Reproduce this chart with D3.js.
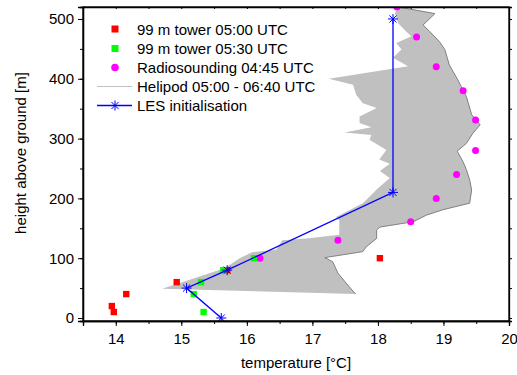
<!DOCTYPE html>
<html>
<head>
<meta charset="utf-8">
<title>Temperature profiles</title>
<script src="https://d3js.org/d3.v7.min.js"></script>
<style>
  body { margin: 0; background: #fff; }
  text { font-family: "Liberation Sans", Arial, Helvetica, sans-serif; }
</style>
</head>
<body>
<script>
// --- data (temperature in degC, height in m) ---
var tower0500 = [[13.94, 20], [13.97, 10], [14.16, 40], [14.93, 60], [15.70, 80], [18.03, 100]];
var tower0530 = [[15.34, 10], [15.19, 40], [15.30, 60], [15.64, 80], [16.11, 100]];
var radio0445 = [[16.20, 100], [17.39, 130], [18.50, 161], [18.89, 200], [19.20, 240], [19.49, 280],
                 [19.49, 331], [19.30, 380], [18.89, 420], [18.59, 470], [18.29, 520]];
var lesInit = [[15.61, 0], [15.08, 50], [15.70, 80], [18.23, 210], [18.23, 500]];

// helipod envelope: warm side (top to bottom) and cold side (bottom to top)
var helipodWarm = [[18.31, 520], [18.87, 509], [18.69, 490], [18.79, 479], [18.94, 462], [19.02, 449],
  [19.09, 423], [19.22, 398], [19.35, 370], [19.38, 359], [19.43, 340], [19.56, 323], [19.45, 309],
  [19.35, 292], [19.21, 279], [19.30, 261], [19.35, 248], [19.40, 231], [19.43, 214], [19.40, 192],
  [18.99, 181], [18.74, 172], [18.54, 161], [18.03, 152], [17.98, 147], [17.98, 133], [17.82, 119],
  [17.77, 111], [17.19, 101], [17.31, 94], [17.39, 75], [17.54, 55], [17.66, 40]];
var helipodCold = [[14.71, 49], [15.66, 83], [15.89, 100], [16.08, 110], [16.45, 114], [16.54, 130],
  [16.91, 133], [17.41, 139], [17.41, 164], [17.36, 169], [17.77, 192], [17.98, 215], [18.18, 234],
  [18.03, 246], [18.18, 258], [18.02, 265], [18.13, 281], [17.87, 298], [17.90, 306], [17.49, 310],
  [17.90, 319], [17.72, 326], [17.72, 337], [17.98, 351], [17.77, 359], [17.67, 373], [17.62, 390],
  [17.25, 400], [18.46, 421], [18.23, 435], [18.36, 449], [18.28, 460], [18.51, 471], [18.43, 479],
  [18.31, 493], [18.26, 510]];

var xTicks = [14, 15, 16, 17, 18, 19, 20];
var yTicks = [0, 100, 200, 300, 400, 500];
var legendLabels = ["99 m tower 05:00 UTC", "99 m tower 05:30 UTC", "Radiosounding 04:45 UTC",
                    "Helipod 05:00 - 06:40 UTC", "LES initialisation"];

const margin = {top: 7, right: 8, bottom: 54, left: 83},
    width = 517 - margin.left - margin.right,
    height = 375 - margin.top - margin.bottom;

var svg = d3.select("body").append("svg")
    .attr("width", 517)
    .attr("height", 375)
  .append("g")
    .attr("transform", "translate(" + margin.left + "," + margin.top + ")");

var x = d3.scaleLinear().domain([13.5, 20]).range([0, width]),
    y = d3.scaleLinear().domain([-5, 520]).range([height, 0]);

svg.append("clipPath").attr("id", "clip")
  .append("rect").attr("width", width).attr("height", height);

var plot = svg.append("g").attr("clip-path", "url(#clip)");

// helipod band
var band = helipodWarm.concat(helipodCold);
var line = d3.line().x(function(d) { return x(d[0]); }).y(function(d) { return y(d[1]); });

plot.append("path")
    .attr("d", line(band) + "Z")
    .attr("fill", "#c0c0c0")
    .attr("stroke", "none");
plot.append("path")
    .attr("d", line(helipodWarm))
    .attr("fill", "none")
    .attr("stroke", "#808080")
    .attr("stroke-width", 1);

// radiosounding
plot.selectAll(".radio").data(radio0445).enter().append("circle")
    .attr("cx", function(d) { return x(d[0]); })
    .attr("cy", function(d) { return y(d[1]); })
    .attr("r", 3.5)
    .attr("fill", "#ff00ff");

// towers
function squares(data, color) {
  plot.selectAll(null).data(data).enter().append("rect")
      .attr("x", function(d) { return x(d[0]) - 3.2; })
      .attr("y", function(d) { return y(d[1]) - 3.2; })
      .attr("width", 6.4)
      .attr("height", 6.4)
      .attr("fill", color);
}
squares(tower0500, "#ff0000");
squares(tower0530, "#00ff00");

// LES line + asterisks
function asterisk(r) {
  var q = r * Math.SQRT1_2;
  return "M" + (-r) + ",0L" + r + ",0M0," + (-r) + "L0," + r +
         "M" + (-q) + "," + (-q) + "L" + q + "," + q +
         "M" + (-q) + "," + q + "L" + q + "," + (-q);
}
plot.append("path")
    .attr("d", line(lesInit))
    .attr("fill", "none")
    .attr("stroke", "#0000ff")
    .attr("stroke-width", 1.3);
plot.selectAll(".les").data(lesInit).enter().append("path")
    .attr("transform", function(d) { return "translate(" + x(d[0]) + "," + y(d[1]) + ")"; })
    .attr("d", asterisk(5))
    .attr("stroke", "#0000ff")
    .attr("stroke-width", 1);

// axes
var minorX = d3.range(13.5, 20.01, 0.5),
    minorY = d3.range(0, 520, 50);

svg.append("g").attr("transform", "translate(0," + height + ")")
    .call(d3.axisBottom(x).tickValues(minorX).tickSize(3).tickFormat(""));
svg.append("g").attr("transform", "translate(0," + height + ")")
    .call(d3.axisBottom(x).tickValues(xTicks).tickSize(5).tickPadding(7).tickFormat(d3.format("d")));
svg.append("g")
    .call(d3.axisTop(x).tickValues(minorX).tickSize(-2).tickFormat(""));

svg.append("g")
    .call(d3.axisLeft(y).tickValues(minorY).tickSize(3).tickFormat(""));
svg.append("g")
    .call(d3.axisLeft(y).tickValues(yTicks).tickSize(5).tickPadding(4).tickFormat(d3.format("d")));
svg.append("g").attr("transform", "translate(" + width + ",0)")
    .call(d3.axisRight(y).tickValues(minorY).tickSize(3).tickFormat(""));

svg.selectAll(".domain").attr("stroke", "#000").attr("stroke-width", 1.3);
svg.selectAll(".tick line").attr("stroke", "#000");
svg.selectAll(".tick text").attr("font-size", 15).attr("fill", "#000")
    .style("font-family", "'Liberation Sans', Arial, sans-serif");

// frame
svg.append("rect")
    .attr("width", width).attr("height", height)
    .attr("fill", "none").attr("stroke", "#000").attr("stroke-width", 1.3);

// axis titles
svg.append("text")
    .attr("x", x(16.75)).attr("y", height + 47)
    .attr("text-anchor", "middle").attr("font-size", 15)
    .text("temperature [°C]");
svg.append("text")
    .attr("transform", "translate(" + (-57) + "," + (height / 2 - 11) + ") rotate(-90)")
    .attr("text-anchor", "middle").attr("font-size", 15)
    .text("height above ground [m]");

// legend
var legend = svg.append("g").attr("transform", "translate(14,22)");
var ly = [0, 19.5, 38.5, 57.5, 76.5];
legend.append("rect").attr("x", 14.5).attr("y", ly[0] - 3.5).attr("width", 7).attr("height", 7).attr("fill", "#ff0000");
legend.append("rect").attr("x", 14.5).attr("y", ly[1] - 3.5).attr("width", 7).attr("height", 7).attr("fill", "#00ff00");
legend.append("circle").attr("cx", 18).attr("cy", ly[2]).attr("r", 3.8).attr("fill", "#ff00ff");
legend.append("line").attr("x1", 0).attr("x2", 35).attr("y1", ly[3]).attr("y2", ly[3])
    .attr("stroke", "#c0c0c0").attr("stroke-width", 1);
legend.append("line").attr("x1", 0).attr("x2", 35).attr("y1", ly[4]).attr("y2", ly[4])
    .attr("stroke", "#0000ff").attr("stroke-width", 1.3);
legend.append("path").attr("transform", "translate(18," + ly[4] + ")")
    .attr("d", asterisk(5)).attr("stroke", "#0000ff").attr("stroke-width", 1);
legend.selectAll(".lab").data(legendLabels).enter().append("text")
    .attr("x", 40)
    .attr("y", function(d, i) { return ly[i] + 5.5; })
    .attr("font-size", 15)
    .text(function(d) { return d; });
</script>
</body>
</html>
